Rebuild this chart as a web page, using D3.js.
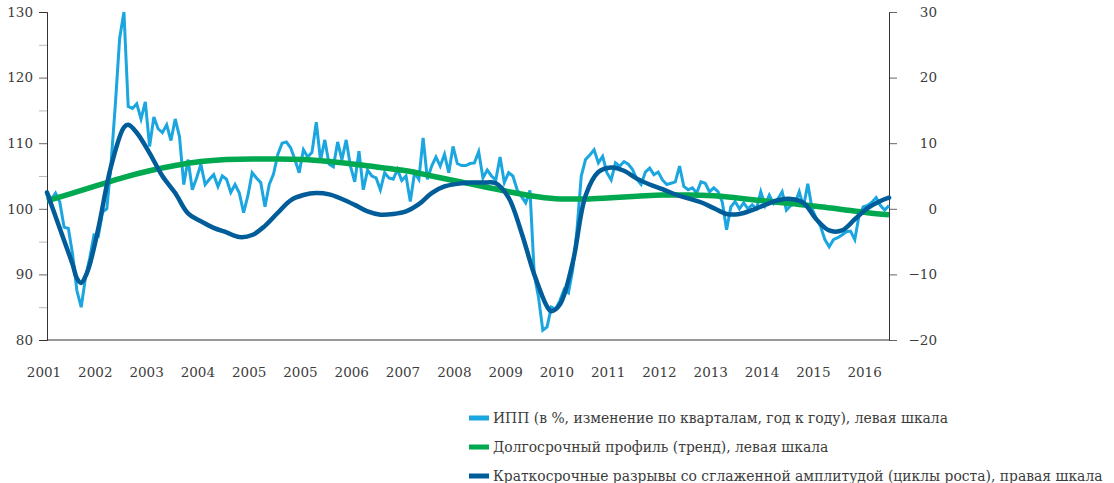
<!DOCTYPE html>
<html>
<head>
<meta charset="utf-8">
<script src="https://cdn.jsdelivr.net/npm/d3@7"></script>
<style>
  body { margin: 0; background: #fff; }
  svg text { font-family: "DejaVu Serif", serif !important; fill: #3c3c3c; }
</style>
</head>
<body>
<div id="chart"></div>
<script>
// labels under the x axis (the source repeats 2005)
const yearLabels = ["2001", "2002", "2003", "2004", "2005", "2005", "2006", "2007", "2008",
  "2009", "2010", "2011", "2012", "2013", "2014", "2015", "2016"];

const leftTicks = [80, 90, 100, 110, 120, 130];
const rightTicks = [-20, -10, 0, 10, 20, 30];

// IPP, monthly from Jan 2001, left scale
const ippValues = [
  102.6, 101.4, 102.4, 101.0, 97.2, 97.0, 93.0, 87.5, 85.0, 89.5, 92.5, 96.0,
  95.8, 99.5, 100.0, 107.0, 116.0, 126.0, 130.0, 115.6, 115.3, 116.0, 113.7, 116.3,
  109.5, 114.0, 112.2, 111.6, 112.8, 110.4, 113.7, 111.0, 103.7, 107.5, 102.9, 104.7,
  106.8, 103.7, 104.5, 105.2, 103.4, 105.0, 104.5, 102.5, 103.7, 102.4, 99.4, 102.0,
  105.5, 104.7, 104.0, 100.3, 103.7, 105.3, 108.3, 110.0, 110.2, 109.3, 107.5, 105.5,
  109.0, 107.9, 108.6, 113.2, 107.4, 110.5, 106.8, 106.4, 110.2, 107.5, 110.5, 106.5,
  104.1, 108.8, 102.9, 105.9, 105.0, 104.7, 102.9, 105.5, 104.7, 104.5, 106.0, 104.3,
  105.0, 101.1, 105.5, 104.5, 110.8, 104.5, 106.5, 107.9, 106.5, 108.3, 105.5, 109.5,
  106.9, 106.6, 106.6, 106.9, 107.0, 108.7, 104.7, 105.9, 105.0, 104.4, 107.9, 104.0,
  105.5, 105.0, 102.9, 101.9, 100.9, 102.8, 90.0, 86.5, 81.5, 82.0, 85.0, 84.7,
  86.0, 87.7, 87.2, 90.7, 96.8, 105.0, 107.5, 108.2, 109.0, 107.0, 108.0, 105.5,
  104.4, 107.0, 106.5, 107.2, 106.8, 106.0, 104.5, 103.7, 105.6, 106.2, 105.2, 105.6,
  104.4, 103.7, 103.9, 104.1, 106.5, 103.4, 102.9, 103.2, 102.4, 104.1, 103.9, 102.6,
  103.2, 102.6, 101.0, 96.8, 100.3, 101.1, 100.0, 100.9, 100.0, 100.6, 100.0, 102.6,
  100.5, 102.1, 100.8, 101.5, 102.6, 99.8, 100.5, 100.8, 102.6, 100.3, 103.8, 100.0,
  98.5, 97.3, 95.3, 94.2, 95.3, 95.6, 96.0, 96.5, 96.6, 95.3, 99.0, 100.3,
  100.5, 101.0, 101.7, 100.5, 99.8, 100.5
];

// long-term trend, left scale
const trendMonths = [0, 6, 12, 18, 24, 30, 36, 42, 48, 54, 60, 66, 72, 78, 84, 90, 96,
  102, 108, 114, 120, 126, 132, 138, 144, 150, 156, 162, 168, 174, 180, 186, 192, 197];
const trendValues = [101.2, 102.4, 103.6, 104.8, 105.8, 106.6, 107.2, 107.5, 107.6, 107.6,
  107.5, 107.2, 106.8, 106.3, 105.8, 105.0, 104.2, 103.4, 102.6, 101.9, 101.5, 101.5,
  101.7, 101.9, 102.1, 102.1, 102.0, 101.6, 101.2, 100.8, 100.4, 99.9, 99.4, 99.1];

// growth cycles, right scale
const cycleMonths = [0, 3, 6, 7, 8, 9, 10, 12, 15, 18, 19, 21, 24, 27, 30, 33, 36, 39, 42,
  45, 48, 51, 54, 57, 60, 63, 66, 69, 72, 75, 78, 81, 84, 87, 90, 93, 96, 99, 102, 105,
  108, 111, 114, 117, 118, 120, 123, 126, 129, 132, 135, 138, 141, 144, 147, 150, 153,
  156, 159, 162, 165, 168, 171, 174, 177, 180, 183, 186, 189, 192, 195, 197];
const cycleValues = [2.5, -3.0, -8.5, -10.6, -11.3, -10.3, -8.5, -3.0, 6.5, 12.4, 12.8,
  11.6, 8.5, 5.0, 2.4, -0.7, -1.9, -2.9, -3.6, -4.3, -4.0, -2.6, -0.6, 1.3, 2.1, 2.4,
  2.2, 1.5, 0.6, -0.4, -0.9, -0.8, -0.4, 0.7, 2.4, 3.4, 3.8, 4.0, 4.0, 3.9, 1.7, -3.6,
  -10.0, -14.9, -15.6, -14.6, -8.2, 2.0, 5.6, 6.3, 5.8, 4.6, 3.7, 3.0, 2.2, 1.6, 1.0,
  0.1, -0.8, -0.8, -0.2, 0.6, 1.3, 1.5, 0.9, -1.6, -3.3, -3.3, -1.6, 0.1, 1.2, 1.7];

const legendItems = [
  { label: "ИПП (в %, изменение по кварталам, год к году), левая шкала", color: "#1ba6e0" },
  { label: "Долгосрочный профиль (тренд), левая шкала", color: "#00a94f" },
  { label: "Краткосрочные разрывы со сглаженной амплитудой (циклы роста), правая шкала", color: "#005d99" }
];

const width = 1114, height = 483;
const margin = { left: 47, right: 225, top: 12, bottom: 143 };
const serif = '"DejaVu Serif", serif';

let svg = d3.select("#chart").append("svg")
  .attr("width", width)
  .attr("height", height)
  .attr("font-family", serif);

let x = d3.scaleLinear().domain([0, ippValues.length - 1]).range([margin.left, width - margin.right]);
let yL = d3.scaleLinear().domain([80, 130]).range([height - margin.bottom, margin.top]);
let yR = d3.scaleLinear().domain([-20, 30]).range([height - margin.bottom, margin.top]);

// left axis
let leftAxis = svg.append("g")
  .attr("transform", `translate(${margin.left},0)`)
  .call(d3.axisLeft(yL).tickValues(leftTicks).tickSize(8).tickPadding(6).tickSizeOuter(0));
leftAxis.append("g")
  .attr("class", "minor")
  .call(d3.axisLeft(yL).tickValues(leftTicks.slice(1).map(d => d - 5)).tickSize(8).tickFormat(""));

// right axis
let rightAxis = svg.append("g")
  .attr("transform", `translate(${width - margin.right},0)`)
  .call(d3.axisRight(yR).tickValues(rightTicks).tickSize(8).tickSizeOuter(0));
rightAxis.append("g")
  .attr("class", "minor")
  .call(d3.axisRight(yR).tickValues(rightTicks.slice(1).map(d => d - 5)).tickSize(0).tickFormat(""));
rightAxis.selectAll("text").attr("text-anchor", "end").attr("x", 48);

svg.selectAll("g").attr("font-family", serif);
svg.selectAll(".tick text").attr("font-size", 13.5).attr("fill", "#3c3c3c");
svg.selectAll(".domain").attr("stroke", "#333");
svg.selectAll(".tick line").attr("stroke", "#666");
svg.selectAll(".minor .tick line").attr("stroke", "#bbb");

// bottom axis line + year labels
svg.append("line")
  .attr("x1", x(0)).attr("x2", x(ippValues.length - 1))
  .attr("y1", yL(80)).attr("y2", yL(80))
  .attr("stroke", "#333");

svg.selectAll(".year")
  .data(yearLabels)
  .enter()
  .append("text")
  .attr("class", "year")
  .attr("x", (d, i) => x(i * 12) - 3)
  .attr("y", 377)
  .attr("text-anchor", "middle")
  .attr("font-size", 13.5)
  .text(d => d);

// series
let ippLine = d3.line()
  .x((d, i) => x(i))
  .y(d => yL(d));

svg.append("path")
  .datum(ippValues)
  .attr("fill", "none")
  .attr("stroke", legendItems[0].color)
  .attr("stroke-width", 3)
  .attr("d", ippLine);

let trendLine = d3.line()
  .x((d, i) => x(trendMonths[i]))
  .y(d => yL(d))
  .curve(d3.curveMonotoneX);

svg.append("path")
  .datum(trendValues)
  .attr("fill", "none")
  .attr("stroke", legendItems[1].color)
  .attr("stroke-width", 5.5)
  .attr("d", trendLine);

let cycleLine = d3.line()
  .x((d, i) => x(cycleMonths[i]))
  .y(d => yR(d))
  .curve(d3.curveCatmullRom);

svg.append("path")
  .datum(cycleValues)
  .attr("fill", "none")
  .attr("stroke", legendItems[2].color)
  .attr("stroke-width", 4.5)
  .attr("stroke-linecap", "round")
  .attr("d", cycleLine);

// legend
let legend = svg.selectAll(".legend")
  .data(legendItems)
  .enter()
  .append("g")
  .attr("class", "legend")
  .attr("transform", (d, i) => `translate(469,${418 + i * 29})`);

legend.append("rect")
  .attr("x", 0).attr("y", -2.5)
  .attr("width", 20).attr("height", 5)
  .attr("fill", d => d.color);

legend.append("text")
  .attr("x", 24)
  .attr("y", 5)
  .attr("font-size", 13.9)
  .text(d => d.label);
</script>
</body>
</html>
